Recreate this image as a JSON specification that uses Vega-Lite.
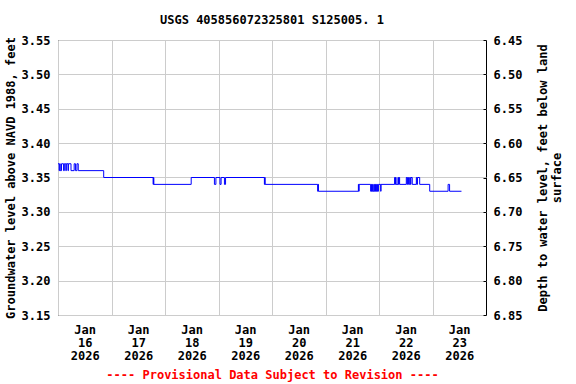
{
  "$schema": "https://vega.github.io/schema/vega-lite/v6.json",
  "width": 428,
  "height": 275,
  "autosize": {"type": "none"},
  "padding": {"left": 58, "top": 40, "right": 90, "bottom": 69},
  "config": {
    "font": "DejaVu Sans Mono",
    "view": {"stroke": "black", "strokeWidth": 1},
    "axis": {
      "labelFont": "DejaVu Sans Mono",
      "labelFontSize": 12,
      "labelFontWeight": "bold",
      "labelColor": "black",
      "titleFont": "DejaVu Sans Mono",
      "titleFontSize": 12,
      "titleFontWeight": "bold",
      "titleColor": "black",
      "gridColor": "#cccccc",
      "gridWidth": 1,
      "gridOpacity": 1,
      "domain": false,
      "ticks": false
    }
  },
  "title": {
    "text": "USGS 405856072325801 S125005. 1",
    "font": "DejaVu Sans Mono",
    "fontSize": 12,
    "fontWeight": "bold",
    "color": "black",
    "anchor": "middle",
    "offset": 7
  },
  "data": {
    "values": [
      {"time": "2026-01-16T00:00:00", "level": 3.37},
      {"time": "2026-01-16T00:30:00", "level": 3.36},
      {"time": "2026-01-16T00:45:00", "level": 3.37},
      {"time": "2026-01-16T01:00:00", "level": 3.36},
      {"time": "2026-01-16T01:35:00", "level": 3.37},
      {"time": "2026-01-16T02:30:00", "level": 3.36},
      {"time": "2026-01-16T02:50:00", "level": 3.37},
      {"time": "2026-01-16T03:30:00", "level": 3.36},
      {"time": "2026-01-16T03:45:00", "level": 3.37},
      {"time": "2026-01-16T04:30:00", "level": 3.36},
      {"time": "2026-01-16T04:40:00", "level": 3.37},
      {"time": "2026-01-16T05:50:00", "level": 3.36},
      {"time": "2026-01-16T07:15:00", "level": 3.37},
      {"time": "2026-01-16T07:50:00", "level": 3.36},
      {"time": "2026-01-16T08:30:00", "level": 3.37},
      {"time": "2026-01-16T09:05:00", "level": 3.36},
      {"time": "2026-01-16T20:30:00", "level": 3.35},
      {"time": "2026-01-17T18:40:00", "level": 3.34},
      {"time": "2026-01-17T18:50:00", "level": 3.35},
      {"time": "2026-01-17T19:00:00", "level": 3.34},
      {"time": "2026-01-18T11:45:00", "level": 3.35},
      {"time": "2026-01-18T22:10:00", "level": 3.34},
      {"time": "2026-01-18T22:50:00", "level": 3.35},
      {"time": "2026-01-19T00:40:00", "level": 3.34},
      {"time": "2026-01-19T01:10:00", "level": 3.35},
      {"time": "2026-01-19T02:40:00", "level": 3.34},
      {"time": "2026-01-19T03:10:00", "level": 3.35},
      {"time": "2026-01-19T20:35:00", "level": 3.34},
      {"time": "2026-01-19T20:45:00", "level": 3.35},
      {"time": "2026-01-19T20:55:00", "level": 3.34},
      {"time": "2026-01-20T20:30:00", "level": 3.33},
      {"time": "2026-01-20T20:40:00", "level": 3.34},
      {"time": "2026-01-20T20:50:00", "level": 3.33},
      {"time": "2026-01-21T14:45:00", "level": 3.34},
      {"time": "2026-01-21T14:55:00", "level": 3.33},
      {"time": "2026-01-21T15:05:00", "level": 3.34},
      {"time": "2026-01-21T20:15:00", "level": 3.33},
      {"time": "2026-01-21T20:30:00", "level": 3.34},
      {"time": "2026-01-21T20:40:00", "level": 3.33},
      {"time": "2026-01-21T21:00:00", "level": 3.34},
      {"time": "2026-01-21T21:10:00", "level": 3.33},
      {"time": "2026-01-21T21:40:00", "level": 3.34},
      {"time": "2026-01-21T21:50:00", "level": 3.33},
      {"time": "2026-01-21T22:05:00", "level": 3.34},
      {"time": "2026-01-21T22:25:00", "level": 3.33},
      {"time": "2026-01-21T22:40:00", "level": 3.34},
      {"time": "2026-01-21T22:50:00", "level": 3.33},
      {"time": "2026-01-21T23:15:00", "level": 3.34},
      {"time": "2026-01-21T23:25:00", "level": 3.33},
      {"time": "2026-01-21T23:45:00", "level": 3.34},
      {"time": "2026-01-22T00:45:00", "level": 3.33},
      {"time": "2026-01-22T00:55:00", "level": 3.34},
      {"time": "2026-01-22T07:00:00", "level": 3.35},
      {"time": "2026-01-22T07:15:00", "level": 3.34},
      {"time": "2026-01-22T07:25:00", "level": 3.35},
      {"time": "2026-01-22T07:40:00", "level": 3.34},
      {"time": "2026-01-22T08:30:00", "level": 3.35},
      {"time": "2026-01-22T08:45:00", "level": 3.34},
      {"time": "2026-01-22T09:00:00", "level": 3.35},
      {"time": "2026-01-22T09:15:00", "level": 3.34},
      {"time": "2026-01-22T12:15:00", "level": 3.35},
      {"time": "2026-01-22T12:35:00", "level": 3.34},
      {"time": "2026-01-22T12:50:00", "level": 3.35},
      {"time": "2026-01-22T13:15:00", "level": 3.34},
      {"time": "2026-01-22T13:45:00", "level": 3.35},
      {"time": "2026-01-22T14:05:00", "level": 3.34},
      {"time": "2026-01-22T14:20:00", "level": 3.35},
      {"time": "2026-01-22T14:55:00", "level": 3.34},
      {"time": "2026-01-22T16:45:00", "level": 3.35},
      {"time": "2026-01-22T17:00:00", "level": 3.34},
      {"time": "2026-01-22T17:15:00", "level": 3.35},
      {"time": "2026-01-22T18:15:00", "level": 3.34},
      {"time": "2026-01-22T22:45:00", "level": 3.33},
      {"time": "2026-01-23T07:00:00", "level": 3.34},
      {"time": "2026-01-23T07:40:00", "level": 3.33},
      {"time": "2026-01-23T13:00:00", "level": 3.33}
    ]
  },
  "layer": [
    {
      "mark": {"type": "line", "interpolate": "step-after", "color": "#0000ff", "strokeWidth": 1},
      "encoding": {
        "x": {
          "field": "time",
          "type": "temporal",
          "scale": {"domain": [{"year": 2026, "month": 1, "date": 16}, {"year": 2026, "month": 1, "date": 24}]},
          "axis": {
            "values": [
              {"year": 2026, "month": 1, "date": 16},
              {"year": 2026, "month": 1, "date": 17},
              {"year": 2026, "month": 1, "date": 18},
              {"year": 2026, "month": 1, "date": 19},
              {"year": 2026, "month": 1, "date": 20},
              {"year": 2026, "month": 1, "date": 21},
              {"year": 2026, "month": 1, "date": 22},
              {"year": 2026, "month": 1, "date": 23}
            ],
            "labelExpr": "[timeFormat(datum.value, '%b'), timeFormat(datum.value, '%d'), timeFormat(datum.value, '%Y')]",
            "labelOffset": 26.7,
            "labelPadding": 9,
            "labelLineHeight": 13,
            "labelAlign": "center",
            "labelBaseline": "top",
            "labelFlush": false,
            "labelOverlap": false,
            "grid": true,
            "title": "---- Provisional Data Subject to Revision ----",
            "titleColor": "red",
            "titlePadding": 8
          }
        },
        "y": {
          "field": "level",
          "type": "quantitative",
          "scale": {"domain": [3.15, 3.55], "zero": false},
          "axis": {
            "values": [3.15, 3.2, 3.25, 3.3, 3.35, 3.4, 3.45, 3.5, 3.55],
            "format": ".2f",
            "title": "Groundwater level above NAVD 1988, feet",
            "labelPadding": 8,
            "titlePadding": 4,
            "grid": true
          }
        }
      }
    },
    {
      "mark": {"type": "point", "opacity": 0},
      "encoding": {
        "y": {
          "datum": 6.65,
          "type": "quantitative",
          "scale": {"domain": [6.45, 6.85], "reverse": true, "zero": false},
          "axis": {
            "orient": "right",
            "values": [6.45, 6.5, 6.55, 6.6, 6.65, 6.7, 6.75, 6.8, 6.85],
            "format": ".2f",
            "title": ["Depth to water level, feet below land", "surface"],
            "titleAngle": 270,
            "ticks": true,
            "tickSize": -3,
            "tickColor": "black",
            "tickWidth": 1,
            "labelPadding": 10,
            "titlePadding": 14,
            "grid": false
          }
        }
      }
    }
  ],
  "resolve": {"scale": {"y": "independent"}}
}
